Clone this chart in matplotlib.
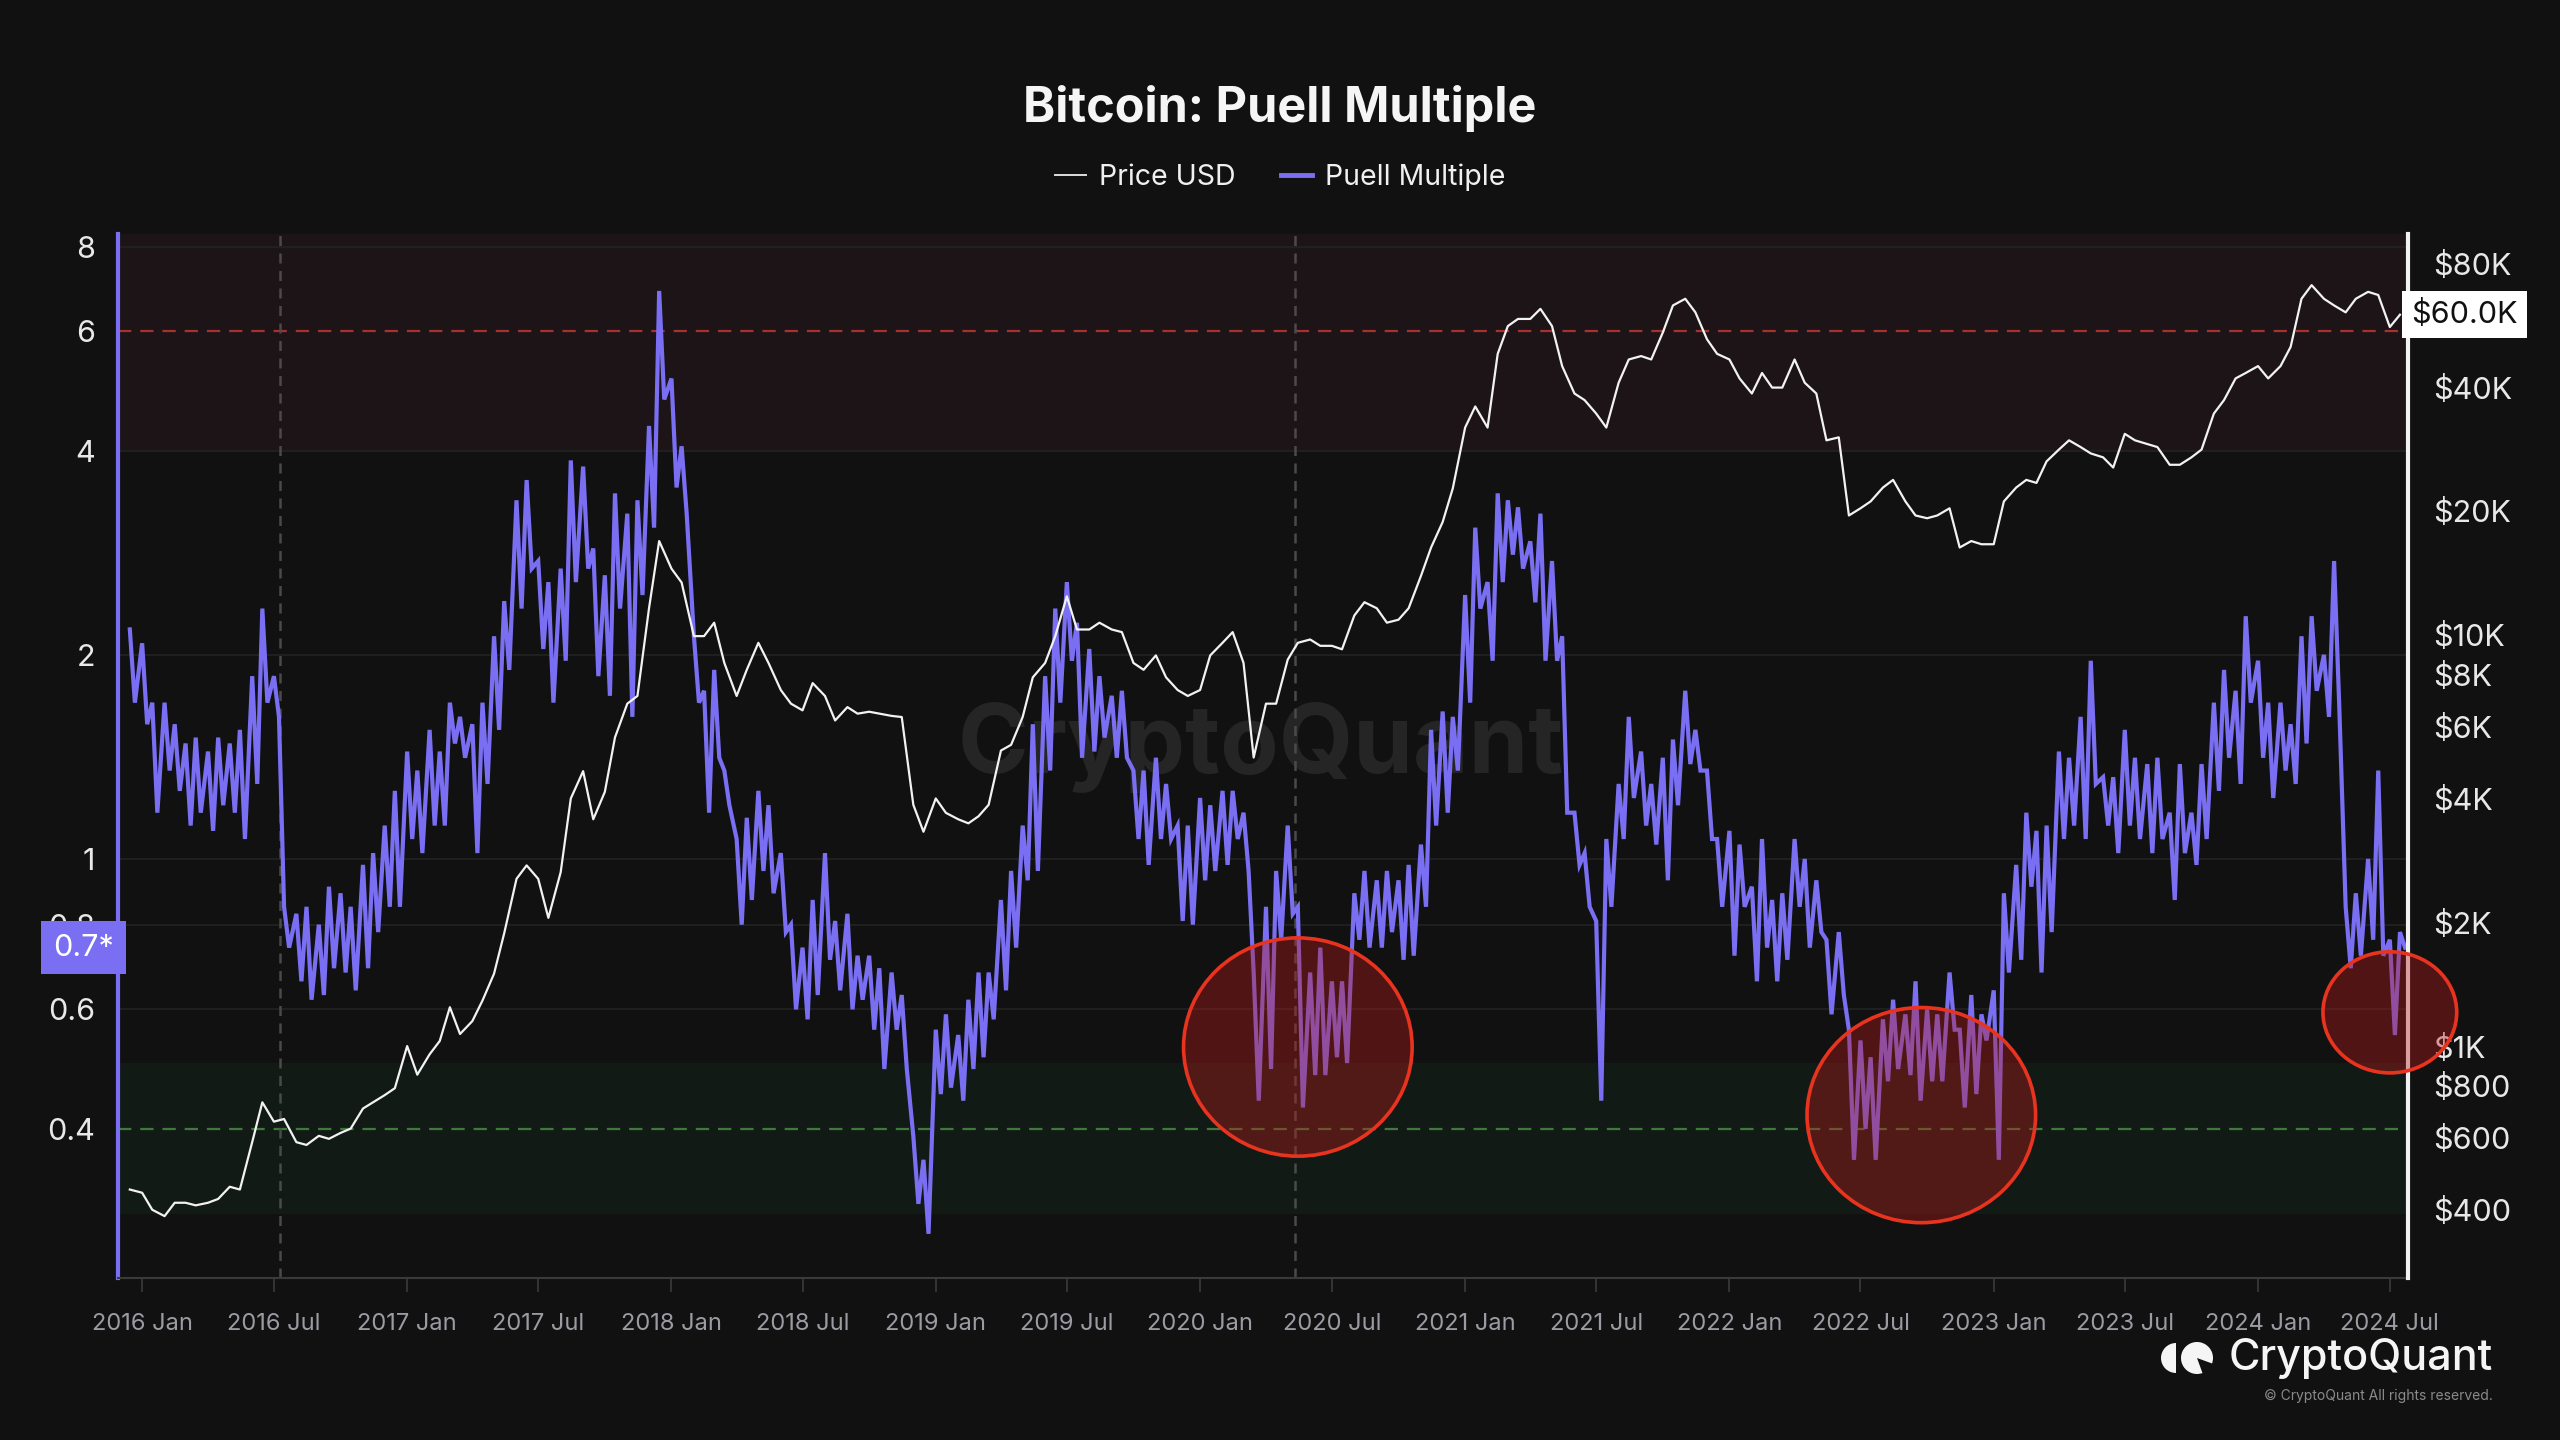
import matplotlib
matplotlib.use("Agg")
import matplotlib.pyplot as plt
import matplotlib.dates as mdates
from matplotlib.patches import Ellipse, Wedge
from matplotlib.lines import Line2D
from matplotlib.ticker import NullLocator
import pandas as pd

plt.rcParams['font.family'] = ['Inter', 'DejaVu Sans']

# ---- data (one value per half month: 1st and 15th) ----
# Puell Multiple: upper and lower edge of the daily noise in each half month
puell_hi = [
    2.18,                                                       # 2015 Dec 15
    2.08, 1.70, 1.70, 1.58, 1.48, 1.51, 1.44, 1.51, 1.48, 1.55, 1.86, 2.34,
    1.86, 0.85, 0.83, 0.85, 0.80, 0.91, 0.89, 0.85, 0.98, 1.02, 1.12, 1.26,   # 2016
    1.44, 1.35, 1.55, 1.44, 1.70, 1.62, 1.58, 1.70, 2.13, 2.40, 3.38, 3.62,
    2.75, 2.56, 2.68, 3.87, 3.79, 2.87, 2.62, 3.46, 3.23, 3.38, 4.35, 6.88,   # 2017
    5.11, 4.06, 2.13, 1.77, 1.90, 1.35, 1.07, 1.15, 1.26, 1.20, 1.02, 0.80,
    0.74, 0.87, 1.02, 0.81, 0.83, 0.72, 0.72, 0.69, 0.68, 0.63, 0.39, 0.36,   # 2018
    0.56, 0.59, 0.55, 0.62, 0.68, 0.68, 0.87, 0.96, 1.12, 1.58, 1.86, 2.34,
    2.56, 2.23, 2.04, 1.86, 1.74, 1.77, 1.35, 1.35, 1.41, 1.29, 1.12, 1.12,   # 2019
    1.23, 1.20, 1.26, 1.26, 1.17, 0.68, 0.85, 0.96, 1.12, 0.85, 0.68, 0.74,
    0.66, 0.66, 0.89, 0.96, 0.93, 0.96, 0.93, 0.98, 1.05, 1.55, 1.65, 1.62,   # 2020
    2.45, 3.08, 2.56, 3.46, 3.38, 3.30, 2.94, 3.23, 2.75, 2.13, 1.17, 1.02,
    0.81, 1.07, 1.29, 1.62, 1.44, 1.29, 1.41, 1.50, 1.77, 1.55, 1.35, 1.07,   # 2021
    1.10, 1.05, 0.91, 1.07, 0.87, 0.89, 1.07, 1.00, 0.93, 0.76, 0.78, 0.56,
    0.54, 0.51, 0.58, 0.62, 0.59, 0.66, 0.60, 0.59, 0.68, 0.56, 0.63, 0.59,   # 2022
    0.64, 0.89, 0.98, 1.17, 1.10, 1.12, 1.44, 1.41, 1.62, 1.96, 1.32, 1.32,
    1.55, 1.41, 1.38, 1.41, 1.17, 1.38, 1.17, 1.38, 1.70, 1.90, 1.77, 2.28,   # 2023
    1.96, 1.70, 1.70, 1.58, 2.13, 2.28, 2.00, 2.75, 0.85, 0.89, 1.00, 1.35,
    0.76, 0.78,                                                 # 2024 Jan-Jul
]
puell_lo = [
    1.70,
    1.58, 1.17, 1.35, 1.26, 1.12, 1.17, 1.10, 1.20, 1.17, 1.07, 1.29, 1.70,
    1.62, 0.74, 0.66, 0.62, 0.63, 0.69, 0.68, 0.64, 0.69, 0.78, 0.85, 0.85,
    1.07, 1.02, 1.12, 1.12, 1.48, 1.41, 1.02, 1.29, 1.55, 1.90, 2.34, 2.68,
    2.04, 1.70, 1.96, 2.56, 2.68, 1.86, 1.74, 2.34, 1.62, 2.45, 3.08, 4.76,
    3.53, 3.23, 1.70, 1.17, 1.41, 1.20, 0.80, 0.87, 0.96, 0.89, 0.78, 0.60,
    0.58, 0.63, 0.71, 0.64, 0.60, 0.62, 0.56, 0.49, 0.56, 0.49, 0.31, 0.28,
    0.45, 0.46, 0.44, 0.49, 0.51, 0.58, 0.64, 0.74, 0.93, 0.96, 1.35, 1.70,
    1.96, 1.41, 1.44, 1.51, 1.41, 1.41, 1.07, 0.98, 1.07, 1.07, 0.81, 0.80,
    0.93, 0.96, 0.98, 1.07, 0.96, 0.44, 0.49, 0.76, 0.83, 0.43, 0.48, 0.48,
    0.51, 0.50, 0.76, 0.74, 0.74, 0.78, 0.71, 0.72, 0.85, 1.12, 1.17, 1.35,
    1.70, 2.34, 1.96, 2.56, 2.81, 2.68, 2.39, 1.96, 1.96, 1.17, 0.98, 0.85,
    0.44, 0.85, 1.07, 1.23, 1.12, 1.05, 0.93, 1.20, 1.38, 1.35, 1.07, 0.85,
    0.72, 0.85, 0.66, 0.74, 0.66, 0.71, 0.85, 0.74, 0.78, 0.59, 0.63, 0.36,
    0.40, 0.36, 0.47, 0.49, 0.48, 0.44, 0.47, 0.47, 0.56, 0.43, 0.45, 0.54,
    0.36, 0.68, 0.71, 0.91, 0.68, 0.78, 1.07, 1.12, 1.07, 1.29, 1.12, 1.02,
    1.12, 1.07, 1.02, 1.07, 0.87, 1.02, 0.98, 1.07, 1.26, 1.41, 1.29, 1.70,
    1.41, 1.23, 1.35, 1.29, 1.48, 1.77, 1.62, 1.70, 0.69, 0.72, 0.76, 0.72,
    0.55, 0.74,
]
# BTC price in USD, same half-month dates
price_usd = [
    448,
    440, 400, 386, 416, 416, 410, 416, 425, 455, 448, 584, 730,
    655, 665, 584, 575, 605, 595, 615, 630, 705, 730, 760, 790,
    1000, 852, 955, 1029, 1243, 1070, 1150, 1290, 1500, 1880, 2550, 2750,
    2550, 2050, 2646, 4000, 4660, 3560, 4150, 5630, 6800, 7100, 11600, 16900,
    14480, 13400, 9925, 9925, 10700, 8540, 7100, 8220, 9560, 8540, 7340, 6800,
    6550, 7630, 7100, 6190, 6670, 6430, 6500, 6430, 6350, 6310, 3860, 3320,
    4000, 3690, 3560, 3480, 3620, 3860, 5230, 5400, 6310, 7880, 8540, 9925,
    12400, 10300, 10300, 10700, 10300, 10150, 8540, 8220, 8910, 7880, 7340, 7100,
    7340, 8910, 9560, 10150, 8540, 5030, 6800, 6800, 8700, 9560, 9740, 9400,
    9400, 9220, 11140, 12000, 11600, 10700, 10880, 11600, 13900, 16300, 18800, 22700,
    31900, 35900, 31900, 48200, 56300, 58600, 58600, 62000, 56300, 45000, 38600, 37200,
    34500, 31900, 41000, 46700, 47600, 46700, 54300, 63200, 65600, 60800, 52300, 48200,
    46700, 42000, 38600, 43300, 39900, 39900, 46700, 41000, 38600, 29700, 30200, 19500,
    20300, 21100, 22800, 23800, 21100, 19500, 19200, 19500, 20300, 16300, 16900, 16600,
    16600, 21100, 22800, 23800, 23400, 26400, 28200, 29700, 28600, 27600, 27000, 25500,
    30800, 29700, 29100, 28600, 25900, 25900, 27000, 28200, 34500, 37200, 42000, 43300,
    45000, 42000, 45000, 50100, 65600, 70800, 65600, 63200, 60800, 65600, 68200, 67000,
    56000, 60000,
]

halving_dates = ['2016-07-09', '2020-05-11']

left_ticks = [0.4, 0.6, 0.8, 1, 2, 4, 6, 8]
left_labels = ['0.4', '0.6', '0.8', '1', '2', '4', '6', '8']
# the $60K tick sits under the current-price tag
right_ticks = [400, 600, 800, 1000, 2000, 4000, 6000, 8000, 10000, 20000, 40000, 80000]
right_labels = ['$400', '$600', '$800', '$1K', '$2K', '$4K', '$6K', '$8K', '$10K',
                '$20K', '$40K', '$80K']
xtick_dates = ['2016-01-01', '2016-07-01', '2017-01-01', '2017-07-01', '2018-01-01',
               '2018-07-01', '2019-01-01', '2019-07-01', '2020-01-01', '2020-07-01',
               '2021-01-01', '2021-07-01', '2022-01-01', '2022-07-01', '2023-01-01',
               '2023-07-01', '2024-01-01', '2024-07-01']
xtick_labels = ['2016 Jan', '2016 Jul', '2017 Jan', '2017 Jul', '2018 Jan', '2018 Jul',
                '2019 Jan', '2019 Jul', '2020 Jan', '2020 Jul', '2021 Jan', '2021 Jul',
                '2022 Jan', '2022 Jul', '2023 Jan', '2023 Jul', '2024 Jan', '2024 Jul']

# highlighted zones (centre date / Puell value)
circle_dates = ['2020-05-15', '2022-09-23', '2024-07-01']
circle_values = [0.528, 0.419, 0.594]

dates = pd.date_range('2015-12-15', periods=len(puell_hi), freq='SMS')

# zigzag between the two edges so the line keeps its noisy look
half_step = pd.Timedelta(days=7)
zz_x, zz_y = [], []
for d, hi, lo in zip(dates, puell_hi, puell_lo):
    zz_x += [d, d + half_step]
    zz_y += [hi, lo]

BG = '#111111'
PURPLE = '#7a6ff2'

fig = plt.figure(figsize=(25.6, 14.4), dpi=100, facecolor=BG)
ax = fig.add_axes([0.0459, 0.1125, 0.8947, 0.7253])
ax.set_facecolor(BG)
ax.set_yscale('log')
ax.set_ylim(0.241, 8.36)
ax.set_xlim(pd.Timestamp('2015-11-28'), pd.Timestamp('2024-07-26'))

# zones
ax.axhspan(4, 8.36, color='#1c1417', lw=0, zorder=0)
ax.axhspan(0.3, 0.5, color='#121a16', lw=0, zorder=0)
for v in [8, 4, 2, 1, 0.8, 0.6]:
    ax.axhline(v, color='#232323', lw=1.2, zorder=0.5)
ax.axhline(6, color='#a8302e', lw=1.6, ls=(0, (6, 4)), zorder=1)
ax.axhline(0.4, color='#3f7a3c', lw=1.6, ls=(0, (6, 4)), zorder=1)
for h in halving_dates:
    ax.axvline(pd.Timestamp(h), color='#4a4a4a', lw=1.8, ls=(0, (4, 3)), zorder=1)

ax.text(0.499, 0.508, 'CryptoQuant', transform=ax.transAxes, ha='center', va='center',
        fontsize=69, fontweight='bold', color='#252525', zorder=0.8)

ax.plot(zz_x, zz_y, color=PURPLE, lw=3.0, zorder=3, solid_joinstyle='miter')

for s in ['top', 'right']:
    ax.spines[s].set_visible(False)
ax.spines['left'].set_color(PURPLE)
ax.spines['left'].set_linewidth(3)
ax.spines['bottom'].set_color('#3a3a3a')
ax.spines['bottom'].set_linewidth(1.5)

ax.set_yticks(left_ticks)
ax.set_yticklabels(left_labels)
ax.yaxis.set_minor_locator(NullLocator())
ax.tick_params(axis='y', length=0, pad=16, labelsize=22, labelcolor='#e8e8e8')
ax.set_xticks(pd.to_datetime(xtick_dates))
ax.set_xticklabels(xtick_labels)
ax.tick_params(axis='x', length=10, width=1.2, color='#3a3a3a', labelcolor='#9b9ba3',
               labelsize=17, pad=15)

# price on the right scale
ax2 = ax.twinx()
ax2.set_yscale('log')
ax2.set_ylim(273, 94500)
ax2.plot(dates, price_usd, color='#f2f2f2', lw=1.6, zorder=4)
for s in ['top', 'left', 'bottom']:
    ax2.spines[s].set_visible(False)
ax2.spines['right'].set_color('#f2f2f2')
ax2.spines['right'].set_linewidth(3)
ax2.set_yticks(right_ticks)
ax2.set_yticklabels(right_labels)
ax2.yaxis.set_minor_locator(NullLocator())
ax2.tick_params(axis='y', length=0, pad=18, labelsize=22, labelcolor='#e8e8e8')

# current value tags
last_puell = puell_lo[-1]
ax.text(-0.0015, last_puell, f'{last_puell:.1f}*', transform=ax.get_yaxis_transform(),
        ha='right', va='center', color='white', fontsize=22, zorder=20, clip_on=False,
        bbox=dict(boxstyle='square,pad=0.4', fc=PURPLE, ec='none'))
last_price = price_usd[-1]
ax2.text(1.0015, last_price, f'${last_price / 1000:.1f}K', transform=ax2.get_yaxis_transform(),
         ha='left', va='center', color='#111111', fontsize=22, zorder=20, clip_on=False,
         bbox=dict(boxstyle='square,pad=0.3', fc='white', ec='none'))

# red circles
to_axes = ax.transData + ax.transAxes.inverted()
circle_sizes = [(0.0998, 0.209), (0.0998, 0.206), (0.0584, 0.116)]
for d, v, (w, h) in zip(circle_dates, circle_values, circle_sizes):
    cx, cy = to_axes.transform((mdates.date2num(pd.Timestamp(d)), v))
    ax2.add_patch(Ellipse((cx, cy), w, h, transform=ax2.transAxes, fc=(0.72, 0.1, 0.1, 0.38),
                          ec='#e8341f', lw=2.6, zorder=10, clip_on=False))

# title and legend
fig.text(0.5, 0.925, 'Bitcoin: Puell Multiple', ha='center', va='center', fontsize=35,
         fontweight='bold', color='#f5f5f5')
handles = [Line2D([], [], color='#dddddd', lw=1.4), Line2D([], [], color=PURPLE, lw=3.5)]
fig.legend(handles, ['Price USD', 'Puell Multiple'], loc='center', bbox_to_anchor=(0.5, 0.877),
           ncol=2, frameon=False, fontsize=20.5, labelcolor='#f0f0f0', handlelength=1.1,
           handletextpad=0.45, columnspacing=1.6)

# logo
fig.text(0.9738, 0.0566, 'CryptoQuant', ha='right', va='center', fontsize=31,
         fontweight='medium', color='#f5f5f5')
fig.text(0.9738, 0.0305, '\u00a9 CryptoQuant All rights reserved.', ha='right', va='center',
         fontsize=10, color='#8a8a8a')
icon = fig.add_axes([2160 / 2560, 1 - 1376 / 1440, 56 / 2560, 36 / 1440])
icon.set_xlim(0, 56)
icon.set_ylim(0, 36)
icon.axis('off')
icon.add_patch(Wedge((16, 18), 15, 90, 270, fc='#f5f5f5', ec='none'))
icon.add_patch(Wedge((37, 18), 16, -20, 290, fc='#f5f5f5', ec='none'))

fig.savefig('out.png', dpi=100, facecolor=BG)
